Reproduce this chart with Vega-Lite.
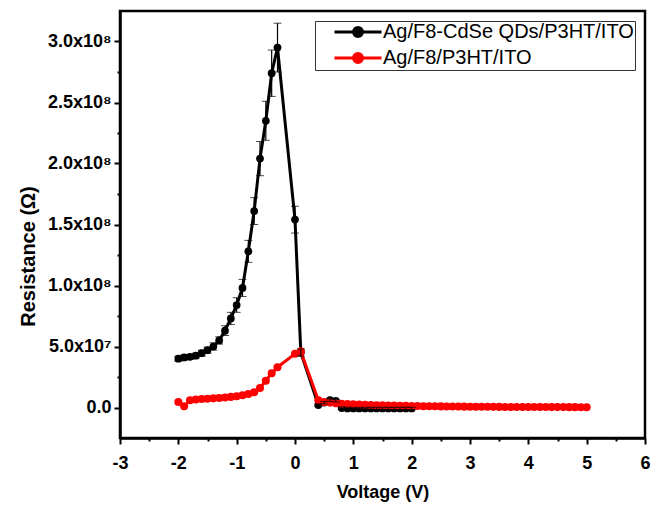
{
  "$schema": "https://vega.github.io/schema/vega-lite/v6.json",
  "width": 525,
  "height": 427,
  "autosize": {"type": "none"},
  "padding": {"left": 120, "top": 11, "right": 6, "bottom": 68},
  "background": "white",
  "config": {
    "view": {"stroke": "black", "strokeWidth": 2.5},
    "font": "Liberation Sans"
  },
  "data": {
    "values": [
      {"s": "Ag/F8-CdSe QDs/P3HT/ITO", "V": -2.0, "R": 40000000, "e": 2000000},
      {"s": "Ag/F8-CdSe QDs/P3HT/ITO", "V": -1.9, "R": 41000000, "e": 2000000},
      {"s": "Ag/F8-CdSe QDs/P3HT/ITO", "V": -1.8, "R": 41500000, "e": 2000000},
      {"s": "Ag/F8-CdSe QDs/P3HT/ITO", "V": -1.7, "R": 42500000, "e": 2000000},
      {"s": "Ag/F8-CdSe QDs/P3HT/ITO", "V": -1.6, "R": 44500000, "e": 2500000},
      {"s": "Ag/F8-CdSe QDs/P3HT/ITO", "V": -1.5, "R": 47000000, "e": 2500000},
      {"s": "Ag/F8-CdSe QDs/P3HT/ITO", "V": -1.4, "R": 50000000, "e": 3000000},
      {"s": "Ag/F8-CdSe QDs/P3HT/ITO", "V": -1.3, "R": 55000000, "e": 3000000},
      {"s": "Ag/F8-CdSe QDs/P3HT/ITO", "V": -1.2, "R": 63000000, "e": 4000000},
      {"s": "Ag/F8-CdSe QDs/P3HT/ITO", "V": -1.1, "R": 73000000, "e": 5000000},
      {"s": "Ag/F8-CdSe QDs/P3HT/ITO", "V": -1.0, "R": 84000000, "e": 6000000},
      {"s": "Ag/F8-CdSe QDs/P3HT/ITO", "V": -0.9, "R": 98000000, "e": 7000000},
      {"s": "Ag/F8-CdSe QDs/P3HT/ITO", "V": -0.8, "R": 128000000, "e": 9000000},
      {"s": "Ag/F8-CdSe QDs/P3HT/ITO", "V": -0.7, "R": 161000000, "e": 11000000},
      {"s": "Ag/F8-CdSe QDs/P3HT/ITO", "V": -0.6, "R": 204000000, "e": 14000000},
      {"s": "Ag/F8-CdSe QDs/P3HT/ITO", "V": -0.5, "R": 235000000, "e": 16000000},
      {"s": "Ag/F8-CdSe QDs/P3HT/ITO", "V": -0.4, "R": 274000000, "e": 19000000},
      {"s": "Ag/F8-CdSe QDs/P3HT/ITO", "V": -0.3, "R": 295000000, "e": 20000000},
      {"s": "Ag/F8-CdSe QDs/P3HT/ITO", "V": 0.0, "R": 154000000, "e": 11000000},
      {"s": "Ag/F8-CdSe QDs/P3HT/ITO", "V": 0.1, "R": 45000000, "e": 3000000},
      {"s": "Ag/F8-CdSe QDs/P3HT/ITO", "V": 0.4, "R": 2000000, "e": 1000000},
      {"s": "Ag/F8-CdSe QDs/P3HT/ITO", "V": 0.5, "R": 4000000, "e": 1000000},
      {"s": "Ag/F8-CdSe QDs/P3HT/ITO", "V": 0.6, "R": 6000000, "e": 1000000},
      {"s": "Ag/F8-CdSe QDs/P3HT/ITO", "V": 0.7, "R": 5500000, "e": 1000000},
      {"s": "Ag/F8-CdSe QDs/P3HT/ITO", "V": 0.8, "R": -500000, "e": 1000000},
      {"s": "Ag/F8-CdSe QDs/P3HT/ITO", "V": 0.9, "R": -800000, "e": 1000000},
      {"s": "Ag/F8-CdSe QDs/P3HT/ITO", "V": 1.0, "R": -800000, "e": 1000000},
      {"s": "Ag/F8-CdSe QDs/P3HT/ITO", "V": 1.1, "R": -800000, "e": 1000000},
      {"s": "Ag/F8-CdSe QDs/P3HT/ITO", "V": 1.2, "R": -800000, "e": 1000000},
      {"s": "Ag/F8-CdSe QDs/P3HT/ITO", "V": 1.3, "R": -800000, "e": 1000000},
      {"s": "Ag/F8-CdSe QDs/P3HT/ITO", "V": 1.4, "R": -800000, "e": 1000000},
      {"s": "Ag/F8-CdSe QDs/P3HT/ITO", "V": 1.5, "R": -800000, "e": 1000000},
      {"s": "Ag/F8-CdSe QDs/P3HT/ITO", "V": 1.6, "R": -800000, "e": 1000000},
      {"s": "Ag/F8-CdSe QDs/P3HT/ITO", "V": 1.7, "R": -800000, "e": 1000000},
      {"s": "Ag/F8-CdSe QDs/P3HT/ITO", "V": 1.8, "R": -800000, "e": 1000000},
      {"s": "Ag/F8-CdSe QDs/P3HT/ITO", "V": 1.9, "R": -800000, "e": 1000000},
      {"s": "Ag/F8-CdSe QDs/P3HT/ITO", "V": 2.0, "R": -800000, "e": 1000000},
      {"s": "Ag/F8/P3HT/ITO", "V": -2.0, "R": 4500000},
      {"s": "Ag/F8/P3HT/ITO", "V": -1.9, "R": 1000000},
      {"s": "Ag/F8/P3HT/ITO", "V": -1.8, "R": 6000000},
      {"s": "Ag/F8/P3HT/ITO", "V": -1.7, "R": 6500000},
      {"s": "Ag/F8/P3HT/ITO", "V": -1.6, "R": 7000000},
      {"s": "Ag/F8/P3HT/ITO", "V": -1.5, "R": 7200000},
      {"s": "Ag/F8/P3HT/ITO", "V": -1.4, "R": 7500000},
      {"s": "Ag/F8/P3HT/ITO", "V": -1.3, "R": 7800000},
      {"s": "Ag/F8/P3HT/ITO", "V": -1.2, "R": 8200000},
      {"s": "Ag/F8/P3HT/ITO", "V": -1.1, "R": 8700000},
      {"s": "Ag/F8/P3HT/ITO", "V": -1.0, "R": 9200000},
      {"s": "Ag/F8/P3HT/ITO", "V": -0.9, "R": 10000000},
      {"s": "Ag/F8/P3HT/ITO", "V": -0.8, "R": 11000000},
      {"s": "Ag/F8/P3HT/ITO", "V": -0.7, "R": 12500000},
      {"s": "Ag/F8/P3HT/ITO", "V": -0.6, "R": 16000000},
      {"s": "Ag/F8/P3HT/ITO", "V": -0.5, "R": 22000000},
      {"s": "Ag/F8/P3HT/ITO", "V": -0.4, "R": 28000000},
      {"s": "Ag/F8/P3HT/ITO", "V": -0.3, "R": 33000000},
      {"s": "Ag/F8/P3HT/ITO", "V": 0.0, "R": 44000000},
      {"s": "Ag/F8/P3HT/ITO", "V": 0.1, "R": 46000000},
      {"s": "Ag/F8/P3HT/ITO", "V": 0.4, "R": 6000000},
      {"s": "Ag/F8/P3HT/ITO", "V": 0.5, "R": 4500000},
      {"s": "Ag/F8/P3HT/ITO", "V": 0.6, "R": 4000000},
      {"s": "Ag/F8/P3HT/ITO", "V": 0.7, "R": 3500000},
      {"s": "Ag/F8/P3HT/ITO", "V": 0.8, "R": 3100000},
      {"s": "Ag/F8/P3HT/ITO", "V": 0.9, "R": 2800000},
      {"s": "Ag/F8/P3HT/ITO", "V": 1.0, "R": 2600000},
      {"s": "Ag/F8/P3HT/ITO", "V": 1.1, "R": 2400000},
      {"s": "Ag/F8/P3HT/ITO", "V": 1.2, "R": 2200000},
      {"s": "Ag/F8/P3HT/ITO", "V": 1.3, "R": 2000000},
      {"s": "Ag/F8/P3HT/ITO", "V": 1.4, "R": 1900000},
      {"s": "Ag/F8/P3HT/ITO", "V": 1.5, "R": 1800000},
      {"s": "Ag/F8/P3HT/ITO", "V": 1.6, "R": 1700000},
      {"s": "Ag/F8/P3HT/ITO", "V": 1.7, "R": 1600000},
      {"s": "Ag/F8/P3HT/ITO", "V": 1.8, "R": 1500000},
      {"s": "Ag/F8/P3HT/ITO", "V": 1.9, "R": 1400000},
      {"s": "Ag/F8/P3HT/ITO", "V": 2.0, "R": 1300000},
      {"s": "Ag/F8/P3HT/ITO", "V": 2.1, "R": 1200000},
      {"s": "Ag/F8/P3HT/ITO", "V": 2.2, "R": 1100000},
      {"s": "Ag/F8/P3HT/ITO", "V": 2.3, "R": 1000000},
      {"s": "Ag/F8/P3HT/ITO", "V": 2.4, "R": 950000},
      {"s": "Ag/F8/P3HT/ITO", "V": 2.5, "R": 900000},
      {"s": "Ag/F8/P3HT/ITO", "V": 2.6, "R": 850000},
      {"s": "Ag/F8/P3HT/ITO", "V": 2.7, "R": 800000},
      {"s": "Ag/F8/P3HT/ITO", "V": 2.8, "R": 750000},
      {"s": "Ag/F8/P3HT/ITO", "V": 2.9, "R": 700000},
      {"s": "Ag/F8/P3HT/ITO", "V": 3.0, "R": 650000},
      {"s": "Ag/F8/P3HT/ITO", "V": 3.1, "R": 600000},
      {"s": "Ag/F8/P3HT/ITO", "V": 3.2, "R": 580000},
      {"s": "Ag/F8/P3HT/ITO", "V": 3.3, "R": 550000},
      {"s": "Ag/F8/P3HT/ITO", "V": 3.4, "R": 520000},
      {"s": "Ag/F8/P3HT/ITO", "V": 3.5, "R": 500000},
      {"s": "Ag/F8/P3HT/ITO", "V": 3.6, "R": 480000},
      {"s": "Ag/F8/P3HT/ITO", "V": 3.7, "R": 460000},
      {"s": "Ag/F8/P3HT/ITO", "V": 3.8, "R": 440000},
      {"s": "Ag/F8/P3HT/ITO", "V": 3.9, "R": 420000},
      {"s": "Ag/F8/P3HT/ITO", "V": 4.0, "R": 400000},
      {"s": "Ag/F8/P3HT/ITO", "V": 4.1, "R": 380000},
      {"s": "Ag/F8/P3HT/ITO", "V": 4.2, "R": 360000},
      {"s": "Ag/F8/P3HT/ITO", "V": 4.3, "R": 340000},
      {"s": "Ag/F8/P3HT/ITO", "V": 4.4, "R": 330000},
      {"s": "Ag/F8/P3HT/ITO", "V": 4.5, "R": 320000},
      {"s": "Ag/F8/P3HT/ITO", "V": 4.6, "R": 310000},
      {"s": "Ag/F8/P3HT/ITO", "V": 4.7, "R": 300000},
      {"s": "Ag/F8/P3HT/ITO", "V": 4.8, "R": 290000},
      {"s": "Ag/F8/P3HT/ITO", "V": 4.9, "R": 280000},
      {"s": "Ag/F8/P3HT/ITO", "V": 5.0, "R": 270000}
    ]
  },
  "encoding": {
    "x": {
      "field": "V",
      "type": "quantitative",
      "title": "Voltage (V)",
      "scale": {"domain": [-3, 6], "nice": false, "zero": false},
      "axis": {
        "values": [-3, -2.5, -2, -1.5, -1, -0.5, 0, 0.5, 1, 1.5, 2, 2.5, 3, 3.5, 4, 4.5, 5, 5.5, 6],
        "labelExpr": "datum.value % 1 !== 0 ? '' : '' + datum.value",
        "tickSize": {"condition": {"test": "datum.value % 1 !== 0", "value": 3}, "value": 6},
        "grid": false,
        "domainColor": "black",
        "domainWidth": 2.5,
        "tickColor": "black",
        "tickWidth": 2,
        "labelColor": "black",
        "labelFontSize": 18,
        "labelFontWeight": "bold",
        "labelPadding": 10,
        "labelFlush": false,
        "labelOverlap": false,
        "titleColor": "black",
        "titleFontSize": 18,
        "titleFontWeight": "bold",
        "titlePadding": 11
      }
    },
    "y": {
      "field": "R",
      "type": "quantitative",
      "title": "Resistance (Ω)",
      "scale": {"domain": [-25000000, 325000000], "nice": false, "zero": false},
      "axis": {
        "values": [0, 25000000, 50000000, 75000000, 100000000, 125000000, 150000000, 175000000, 200000000, 225000000, 250000000, 275000000, 300000000],
        "labelExpr": "datum.value % 50000000 !== 0 ? '' : datum.value === 0 ? '0.0' : datum.value < 100000000 ? format(datum.value / 10000000, '.1f') + 'x10⁷' : format(datum.value / 100000000, '.1f') + 'x10⁸'",
        "tickSize": {"condition": {"test": "datum.value % 50000000 !== 0", "value": 3}, "value": 6},
        "grid": false,
        "domainColor": "black",
        "domainWidth": 2.5,
        "tickColor": "black",
        "tickWidth": 2,
        "labelColor": "black",
        "labelFontSize": 18,
        "labelFontWeight": "bold",
        "labelPadding": 3,
        "labelFlush": false,
        "labelOverlap": false,
        "titleColor": "black",
        "titleFontSize": 20,
        "titleFontWeight": "bold",
        "titlePadding": 9,
        "titleY": 245
      }
    }
  },
  "layer": [
    {
      "transform": [{"filter": "datum.s === 'Ag/F8-CdSe QDs/P3HT/ITO'"}],
      "mark": {"type": "line", "strokeWidth": 3, "point": {"filled": true, "size": 60}},
      "encoding": {
        "color": {
          "field": "s",
          "type": "nominal",
          "scale": {"domain": ["Ag/F8-CdSe QDs/P3HT/ITO", "Ag/F8/P3HT/ITO"], "range": ["#000000", "#ff0000"]},
          "legend": {
            "orient": "top-right",
            "offset": 10,
            "title": null,
            "strokeColor": "#333333",
            "fillColor": "white",
            "padding": 1,
            "labelFont": "Liberation Sans",
            "labelFontSize": 20,
            "labelColor": "black",
            "labelLimit": 400,
            "labelOffset": 15,
            "symbolOffset": 32,
            "rowPadding": 4,
            "symbolType": "M-4.7,0L4.7,0M-0.9,0A0.9,0.9,0,1,0,0.9,0A0.9,0.9,0,1,0,-0.9,0Z",
            "symbolSize": 100,
            "symbolStrokeWidth": 3,
            "encode": {
              "symbols": {
                "update": {
                  "fill": {"scale": "color", "field": "value"},
                  "stroke": {"scale": "color", "field": "value"}
                }
              }
            }
          }
        },
        "order": {"field": "V"}
      }
    },
    {
      "transform": [{"filter": "datum.s === 'Ag/F8/P3HT/ITO'"}],
      "mark": {"type": "line", "strokeWidth": 3, "point": {"filled": true, "size": 65}},
      "encoding": {
        "color": {"field": "s", "type": "nominal"},
        "order": {"field": "V"}
      }
    },
    {
      "transform": [{"filter": "datum.s === 'Ag/F8-CdSe QDs/P3HT/ITO'"}],
      "mark": {"type": "errorbar", "color": "black", "ticks": {"size": 8, "color": "black"}, "rule": {"strokeWidth": 1.2}},
      "encoding": {
        "yError": {"field": "e"}
      }
    }
  ]
}
